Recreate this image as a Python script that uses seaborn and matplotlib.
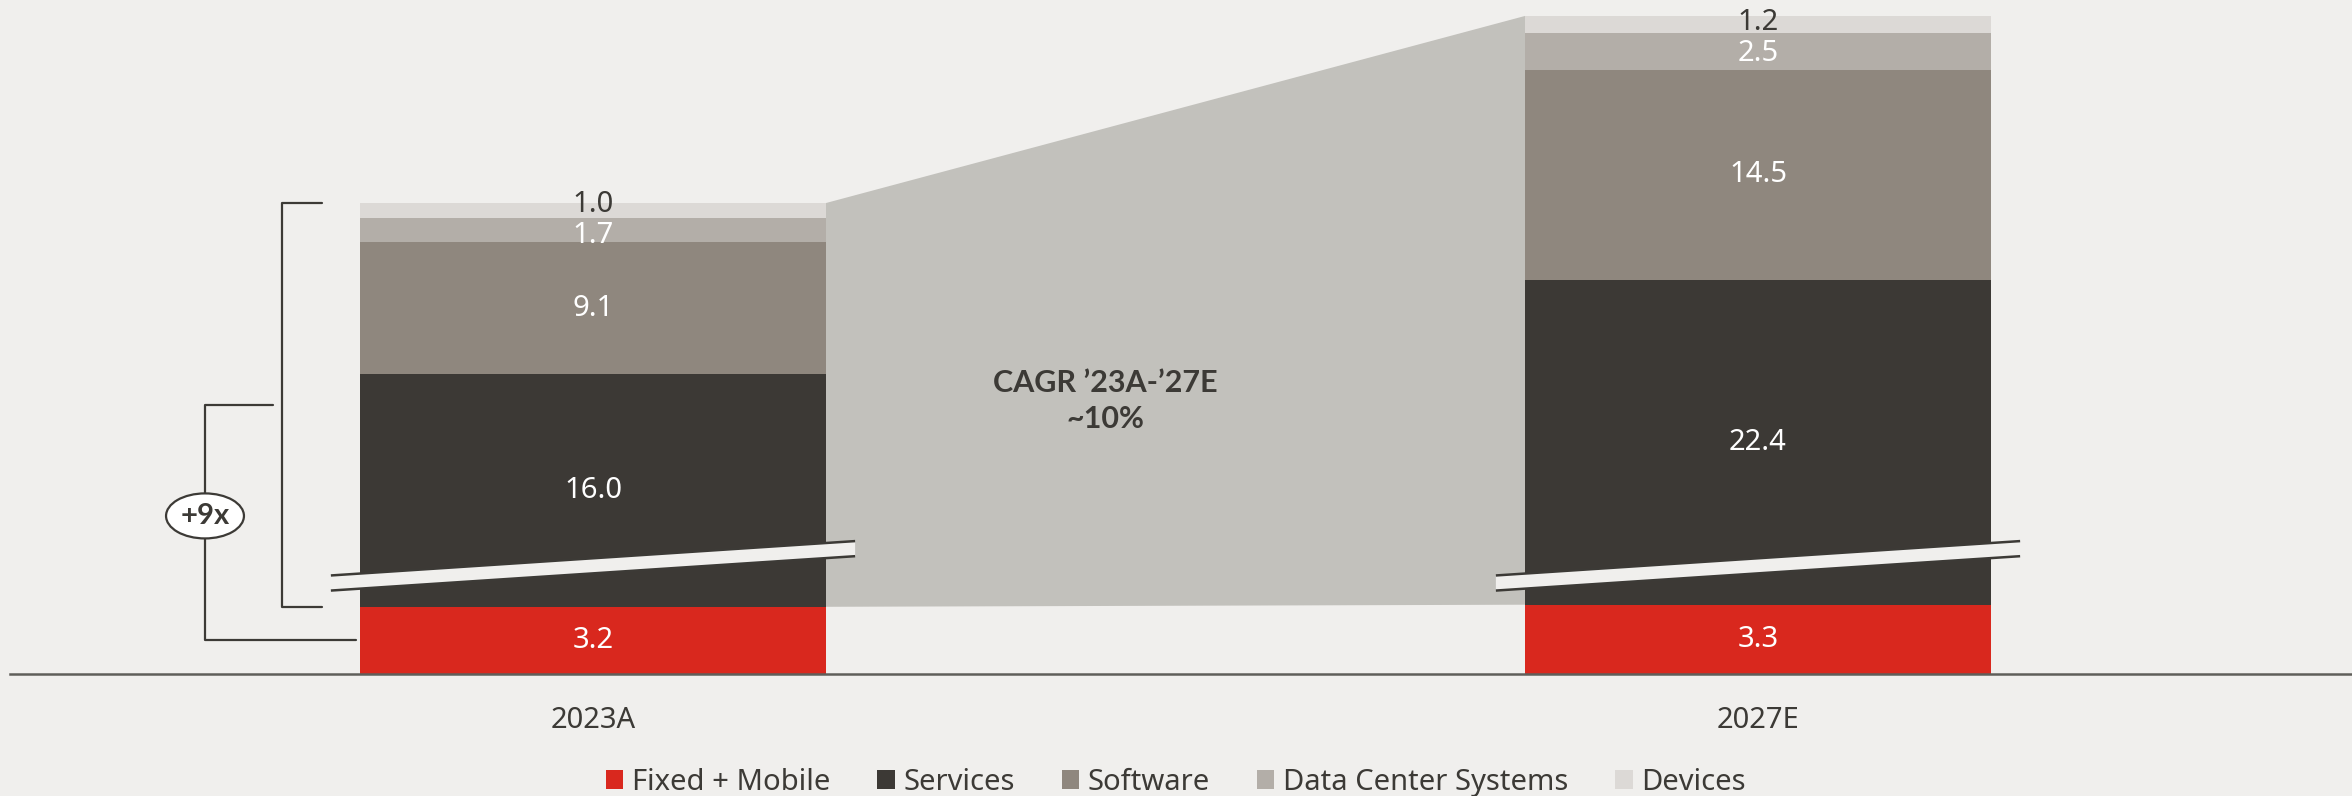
import numpy as np
import matplotlib
matplotlib.use("Agg")
import matplotlib.pyplot as plt
import seaborn as sns
from matplotlib.patches import Patch
from matplotlib.transforms import blended_transform_factory

# ---- data -------------------------------------------------------------
years = ["2023A", "2027E"]
segments = ["Fixed + Mobile", "Services", "Software", "Data Center Systems", "Devices"]
fixed_mobile = [3.2, 3.3]
services = [16.0, 22.4]
software = [9.1, 14.5]
data_center_systems = [1.7, 2.5]
devices = [1.0, 1.2]
cagr_text = "CAGR \u201923A-\u201927E\n~10%"
multiple_text = "+9x"

# ---- style ------------------------------------------------------------
BG = "#f0efed"
DARK = "#3c3a36"
seg_colors = ["#d9281e", "#3c3935", "#8f877e", "#b3aea8", "#dcd9d6"]
label_colors = ["white", "white", "white", "white", DARK]
BRIDGE = "#c2c1bc"

sns.set_theme(style="white")
plt.rcParams["font.family"] = ["Noto Sans", "DejaVu Sans"]
BOLD_FAMILY = ["Lato", "DejaVu Sans"]
FS = 21
DPI = 100

# broken value axis: the Fixed + Mobile base is drawn on a stretched scale
AXIS_BREAK = 3.3
LOW_STRETCH = 1.448
Y_TOP = 45.0


def fwd(y):
    y = np.asarray(y, dtype=float)
    return np.where(y < AXIS_BREAK, y * LOW_STRETCH,
                    AXIS_BREAK * LOW_STRETCH + (y - AXIS_BREAK))


def inv(v):
    v = np.asarray(v, dtype=float)
    edge = AXIS_BREAK * LOW_STRETCH
    return np.where(v < edge, v / LOW_STRETCH, AXIS_BREAK + (v - edge))


def frac(y):
    """Axes-fraction height of a data value."""
    return float(fwd(y) / fwd(Y_TOP))


values = np.array([fixed_mobile, services, software, data_center_systems, devices])
cum = np.cumsum(values, axis=0)

AX_H_PX = 674
fig = plt.figure(figsize=(23.52, 7.96), dpi=DPI)
fig.patch.set_facecolor(BG)
ax = fig.add_axes([0, 122 / 796, 1, AX_H_PX / 796])
ax.set_facecolor(BG)

BAR_W = 0.4
# stacked bars: draw cumulative totals from the top layer down
for i in range(len(segments) - 1, -1, -1):
    sns.barplot(x=years, y=cum[i], order=years, color=seg_colors[i],
                saturation=1, width=BAR_W, errorbar=None, linewidth=0,
                ax=ax, zorder=2)

ax.set_yscale("function", functions=(fwd, inv))
ax.set_ylim(0, Y_TOP)
ax.set_xlim(-593 / 1165, 1 + (2352 - 1758) / 1165)
bt = blended_transform_factory(ax.transData, ax.transAxes)

# growth bridge between the two bars
half = BAR_W / 2
ax.fill([0 + half, 1 - half, 1 - half, 0 + half],
        [cum[-1][0], cum[-1][1], fixed_mobile[1], fixed_mobile[0]],
        color=BRIDGE, lw=0, zorder=1)

# segment value labels (thin top segments are spread apart so they stay legible)
min_sep = 1.06 * FS * DPI / 72 / AX_H_PX
for j in range(len(years)):
    centers = []
    for i in range(len(segments)):
        bottom = 0 if i == 0 else cum[i - 1][j]
        centers.append((frac(bottom) + frac(cum[i][j])) / 2)
    for i in range(len(segments) - 1, 0, -1):
        gap = centers[i] - centers[i - 1]
        if gap < min_sep:
            d = (min_sep - gap) / 2
            centers[i] += d
            centers[i - 1] -= d
    for i in range(len(segments)):
        ax.text(j, centers[i], f"{values[i][j]:.1f}", transform=bt,
                ha="center", va="center", color=label_colors[i],
                fontsize=FS, zorder=5)

ax.text(0.44, 0.405, cagr_text, transform=bt, ha="center", va="center",
        fontsize=FS + 1, fontweight="bold", family=BOLD_FAMILY,
        color=DARK, linespacing=1.35, zorder=5)

# axis-break bands across the Services segment
band_left, band_right, band_half = 0.135, 0.186, 0.0112
for j in range(len(years)):
    xs = [j - 0.225, j + 0.225]
    up = [band_left + band_half, band_right + band_half]
    lo = [band_left - band_half, band_right - band_half]
    ax.fill([xs[0], xs[1], xs[1], xs[0]], [up[0], up[1], lo[1], lo[0]],
            transform=bt, color=BG, lw=0, zorder=6, clip_on=False)
    ax.plot(xs, up, transform=bt, color=DARK, lw=1.8, zorder=7,
            solid_capstyle="butt", clip_on=False)
    ax.plot(xs, lo, transform=bt, color=DARK, lw=1.8, zorder=7,
            solid_capstyle="butt", clip_on=False)

# bracket around the non-network segments of 2023A and the multiple marker
px = lambda p: (p - 593) / 1165
b_top, b_bot = frac(cum[-1][0]), frac(fixed_mobile[0])
ax.plot([px(322), px(282), px(282), px(322)], [b_top, b_top, b_bot, b_bot],
        transform=bt, color=DARK, lw=1.6, solid_joinstyle="round", clip_on=False)
c_top = (b_top + b_bot) / 2
c_bot = frac(fixed_mobile[0]) / 2
ax.plot([px(273), px(205), px(205), px(356)], [c_top, c_top, c_bot, c_bot],
        transform=bt, color=DARK, lw=1.6, clip_on=False)
ax.text(px(205), (c_top + c_bot) / 2 + 0.01, multiple_text, transform=bt,
        ha="center", va="center", fontsize=FS, fontweight="bold",
        family=BOLD_FAMILY, color=DARK,
        bbox=dict(boxstyle="ellipse,pad=0.1", fc="white", ec=DARK, lw=1.6),
        zorder=8)

# axes cosmetics
for s in ["left", "right", "top"]:
    ax.spines[s].set_visible(False)
ax.spines["bottom"].set_color("#5f5e5a")
ax.spines["bottom"].set_linewidth(1.8)
ax.spines["bottom"].set_bounds(px(10), ax.get_xlim()[1])
ax.set_yticks([])
ax.set_xlabel("")
ax.set_ylabel("")
ax.tick_params(axis="x", length=0, pad=23, labelsize=FS, labelcolor=DARK)

handles = [Patch(facecolor=c, edgecolor="none") for c in seg_colors]
fig.legend(handles, segments, loc="center", bbox_to_anchor=(0.5, 13.5 / 796),
           ncol=5, frameon=False, fontsize=FS, handlelength=0.6, handleheight=0.6,
           handletextpad=0.3, columnspacing=1.6, labelcolor=DARK)

fig.savefig("out.png", dpi=DPI, facecolor=BG)
